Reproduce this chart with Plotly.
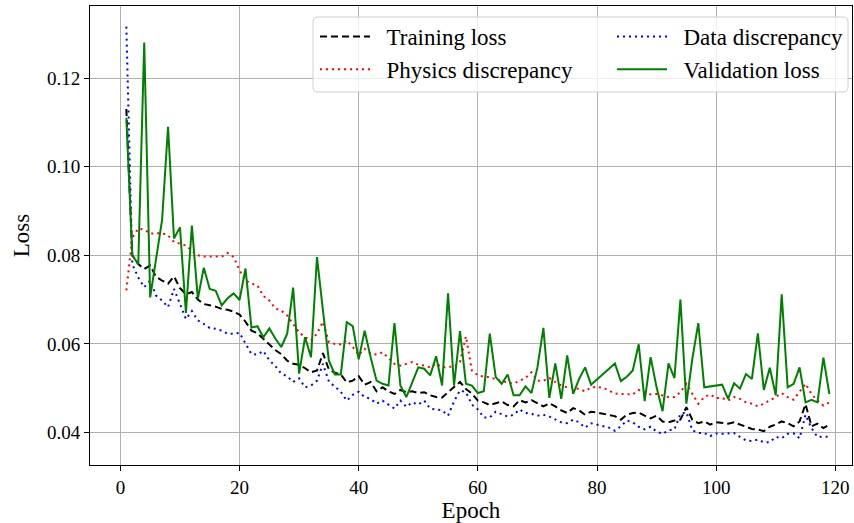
import plotly.graph_objects as go

epochs = list(range(1, 120))

training_loss = [
    0.1130, 0.0800, 0.0780, 0.0769, 0.0777, 0.0751, 0.0743, 0.0736, 0.0752, 0.0726,
    0.0712, 0.0717, 0.0700, 0.0690, 0.0687, 0.0684, 0.0679, 0.0677, 0.0673, 0.0666,
    0.0650, 0.0630, 0.0624, 0.0612, 0.0600, 0.0586, 0.0577, 0.0562, 0.0555, 0.0553,
    0.0545, 0.0536, 0.0540, 0.0579, 0.0542, 0.0535, 0.0531, 0.0513, 0.0517, 0.0527,
    0.0508, 0.0514, 0.0493, 0.0502, 0.0493, 0.0487, 0.0496, 0.0491, 0.0493, 0.0489,
    0.0491, 0.0484, 0.0480, 0.0479, 0.0491, 0.0502, 0.0514, 0.0498, 0.0488, 0.0472,
    0.0468, 0.0462, 0.0466, 0.0470, 0.0462, 0.0459, 0.0473, 0.0468, 0.0473, 0.0466,
    0.0459, 0.0466, 0.0459, 0.0450, 0.0444, 0.0455, 0.0450, 0.0440, 0.0447, 0.0445,
    0.0442, 0.0440, 0.0437, 0.0429, 0.0440, 0.0444, 0.0445, 0.0438, 0.0432, 0.0438,
    0.0425, 0.0423, 0.0427, 0.0429, 0.0457, 0.0429, 0.0421, 0.0425, 0.0418, 0.0423,
    0.0421, 0.0420, 0.0423, 0.0418, 0.0413, 0.0408, 0.0407, 0.0403, 0.0413, 0.0418,
    0.0425, 0.0421, 0.0414, 0.0425, 0.0464, 0.0414, 0.0420, 0.0410, 0.0418,
]

physics_discrepancy = [
    0.0721, 0.0840, 0.0860, 0.0858, 0.0849, 0.0849, 0.0850, 0.0845, 0.0830, 0.0826,
    0.0822, 0.0810, 0.0800, 0.0797, 0.0797, 0.0796, 0.0797, 0.0805, 0.0796, 0.0766,
    0.0743, 0.0736, 0.0732, 0.0708, 0.0698, 0.0680, 0.0675, 0.0664, 0.0645, 0.0626,
    0.0615, 0.0608, 0.0623, 0.0650, 0.0604, 0.0600, 0.0599, 0.0608, 0.0593, 0.0575,
    0.0589, 0.0578, 0.0576, 0.0581, 0.0568, 0.0555, 0.0551, 0.0555, 0.0559, 0.0553,
    0.0551, 0.0547, 0.0556, 0.0547, 0.0548, 0.0549, 0.0559, 0.0617, 0.0540, 0.0529,
    0.0526, 0.0525, 0.0520, 0.0517, 0.0514, 0.0510, 0.0517, 0.0523, 0.0536, 0.0517,
    0.0517, 0.0523, 0.0514, 0.0506, 0.0502, 0.0502, 0.0498, 0.0493, 0.0502, 0.0503,
    0.0501, 0.0495, 0.0488, 0.0487, 0.0486, 0.0486, 0.0496, 0.0491, 0.0486, 0.0487,
    0.0484, 0.0480, 0.0480, 0.0491, 0.0510, 0.0486, 0.0465, 0.0480, 0.0486, 0.0478,
    0.0478, 0.0472, 0.0480, 0.0476, 0.0468, 0.0465, 0.0459, 0.0465, 0.0472, 0.0480,
    0.0489, 0.0480, 0.0474, 0.0491, 0.0510, 0.0487, 0.0472, 0.0461, 0.0468,
]

data_discrepancy = [
    0.1316, 0.0780, 0.0750, 0.0728, 0.0743, 0.0709, 0.0698, 0.0683, 0.0724, 0.0690,
    0.0656, 0.0674, 0.0653, 0.0645, 0.0636, 0.0634, 0.0630, 0.0623, 0.0623, 0.0625,
    0.0601, 0.0577, 0.0576, 0.0584, 0.0563, 0.0550, 0.0533, 0.0527, 0.0514, 0.0522,
    0.0502, 0.0506, 0.0517, 0.0555, 0.0515, 0.0504, 0.0492, 0.0472, 0.0485, 0.0492,
    0.0480, 0.0476, 0.0465, 0.0472, 0.0463, 0.0454, 0.0472, 0.0458, 0.0468, 0.0463,
    0.0472, 0.0454, 0.0452, 0.0450, 0.0438, 0.0470, 0.0495, 0.0491, 0.0463, 0.0452,
    0.0434, 0.0434, 0.0447, 0.0442, 0.0436, 0.0440, 0.0452, 0.0444, 0.0442, 0.0438,
    0.0440, 0.0436, 0.0429, 0.0423, 0.0421, 0.0429, 0.0423, 0.0411, 0.0421, 0.0418,
    0.0414, 0.0411, 0.0404, 0.0414, 0.0427, 0.0423, 0.0413, 0.0407, 0.0413, 0.0402,
    0.0397, 0.0405, 0.0407, 0.0442, 0.0446, 0.0405, 0.0399, 0.0399, 0.0392, 0.0398,
    0.0397, 0.0398, 0.0399, 0.0390, 0.0382, 0.0381, 0.0384, 0.0378, 0.0378, 0.0390,
    0.0387, 0.0397, 0.0398, 0.0387, 0.0440, 0.0410, 0.0390, 0.0391, 0.0390,
]

validation_loss = [
    0.1110, 0.0800, 0.0780, 0.1280, 0.0705, 0.0790, 0.0880, 0.1090, 0.0838, 0.0863,
    0.0670, 0.0867, 0.0702, 0.0772, 0.0724, 0.0720, 0.0687, 0.0703, 0.0714, 0.0699,
    0.0770, 0.0637, 0.0640, 0.0615, 0.0635, 0.0612, 0.0593, 0.0623, 0.0727, 0.0533,
    0.0615, 0.0570, 0.0796, 0.0675, 0.0562, 0.0531, 0.0531, 0.0649, 0.0640, 0.0565,
    0.0630, 0.0570, 0.0517, 0.0510, 0.0506, 0.0647, 0.0506, 0.0480, 0.0513, 0.0547,
    0.0544, 0.0529, 0.0572, 0.0506, 0.0714, 0.0506, 0.0629, 0.0510, 0.0506, 0.0489,
    0.0493, 0.0623, 0.0525, 0.0510, 0.0531, 0.0484, 0.0484, 0.0504, 0.0489, 0.0547,
    0.0636, 0.0478, 0.0556, 0.0476, 0.0574, 0.0487, 0.0521, 0.0547, 0.0508, 0.0520,
    0.0532, 0.0544, 0.0556, 0.0516, 0.0526, 0.0540, 0.0599, 0.0471, 0.0570, 0.0502,
    0.0448, 0.0556, 0.0523, 0.0700, 0.0465, 0.0566, 0.0647, 0.0502, 0.0504, 0.0506,
    0.0508, 0.0476, 0.0511, 0.0499, 0.0532, 0.0521, 0.0624, 0.0496, 0.0546, 0.0484,
    0.0712, 0.0502, 0.0510, 0.0547, 0.0468, 0.0474, 0.0468, 0.0569, 0.0487,
]

x_ticks = [0, 20, 40, 60, 80, 100, 120]
y_ticks = [0.04, 0.06, 0.08, 0.10, 0.12]

FONT = "Liberation Serif"
SP = "\u2002"

fig = go.Figure()
fig.add_trace(go.Scatter(x=epochs, y=training_loss, mode="lines", name=SP + "Training loss",
                         legend="legend",
                         line=dict(color="black", width=2, dash="7px,4px")))
fig.add_trace(go.Scatter(x=epochs, y=physics_discrepancy, mode="lines", name=SP + "Physics discrepancy",
                         legend="legend",
                         line=dict(color="#ff0000", width=2, dash="2px,4px")))
fig.add_trace(go.Scatter(x=epochs, y=data_discrepancy, mode="lines", name=SP + "Data discrepancy",
                         legend="legend2",
                         line=dict(color="#0000ff", width=2, dash="2px,4px")))
fig.add_trace(go.Scatter(x=epochs, y=validation_loss, mode="lines", name=SP + "Validation loss",
                         legend="legend2",
                         line=dict(color="#008000", width=2)))

W, H = 854, 523
ML, MR, MT, MB = 90, 2, 6, 58
pw, ph = W - ML - MR, H - MT - MB

def px_x(p):
    return (p - ML) / pw

def px_y(p):
    return (H - MB - p) / ph

# legend frame (rounded)
x0, x1, y0, y1 = px_x(313), px_x(848), px_y(17), px_y(92)
rx, ry = 5 / pw, 5 / ph
path = (f"M {x0+rx},{y0} L {x1-rx},{y0} Q {x1},{y0} {x1},{y0-ry} "
        f"L {x1},{y1+ry} Q {x1},{y1} {x1-rx},{y1} L {x0+rx},{y1} "
        f"Q {x0},{y1} {x0},{y1+ry} L {x0},{y0-ry} Q {x0},{y0} {x0+rx},{y0} Z")
fig.add_shape(type="path", path=path, xref="paper", yref="paper",
              line=dict(color="#d0d0d0", width=1), fillcolor="rgba(255,255,255,0.8)",
              layer="above")

leg_common = dict(
    orientation="v", xanchor="left", yanchor="top",
    bgcolor="rgba(0,0,0,0)", borderwidth=0,
    font=dict(family=FONT, size=23),
    traceorder="normal", itemwidth=50, tracegroupgap=0,
)

fig.update_layout(
    width=W, height=H,
    margin=dict(l=ML, r=MR, t=MT, b=MB),
    paper_bgcolor="white", plot_bgcolor="white",
    font=dict(family=FONT, size=19, color="black"),
    showlegend=True,
    legend=dict(x=px_x(315), y=px_y(15), **leg_common),
    legend2=dict(x=px_x(612), y=px_y(15), **leg_common),
    xaxis=dict(
        range=[-5.1, 122.8], tickvals=x_ticks, ticktext=[str(v) for v in x_ticks],
        showgrid=True, gridcolor="#b0b0b0", gridwidth=1,
        showline=True, linecolor="black", linewidth=1, mirror=True,
        ticks="outside", ticklen=5, tickcolor="black", zeroline=False,
        title=dict(text="Epoch", font=dict(family=FONT, size=23), standoff=6),
    ),
    yaxis=dict(
        range=[0.03267, 0.13625], tickvals=y_ticks, ticktext=[f"{v:.2f}" for v in y_ticks],
        showgrid=True, gridcolor="#b0b0b0", gridwidth=1,
        showline=True, linecolor="black", linewidth=1, mirror=True,
        ticks="outside", ticklen=5, tickcolor="black", zeroline=False,
        title=dict(text="Loss", font=dict(family=FONT, size=23), standoff=10),
    ),
)

fig.write_html("out.html")
